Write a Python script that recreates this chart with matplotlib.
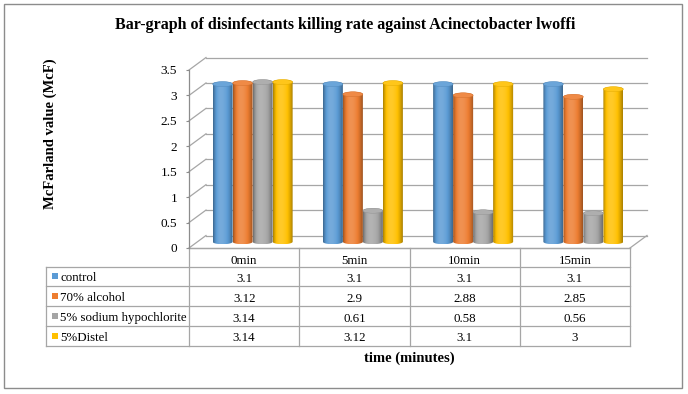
import numpy as np
import matplotlib
matplotlib.use("Agg")
import matplotlib.pyplot as plt
from matplotlib.patches import Polygon, Ellipse, Rectangle
from matplotlib.transforms import blended_transform_factory
from matplotlib.colors import to_rgb
from matplotlib.ticker import FuncFormatter

# ---------------- data ----------------
categories = ['0min', '5min', '10min', '15min']
series_names = ['control', '70% alcohol', '5% sodium hypochlorite', '5%Distel']
control = [3.1, 3.1, 3.1, 3.1]
alcohol = [3.12, 2.9, 2.88, 2.85]
sodium = [3.14, 0.61, 0.58, 0.56]
distel = [3.14, 3.12, 3.1, 3]
series_values = [control, alcohol, sodium, distel]
series_colors = ['#5B9BD5', '#ED7D31', '#A5A5A5', '#FFC000']
y_ticks = [0, 0.5, 1, 1.5, 2, 2.5, 3, 3.5]

title = 'Bar-graph of disinfectants killing rate against Acinectobacter lwoffi'
y_label = 'McFarland value (McF)'
x_label = 'time (minutes)'

# ---------------- layout ----------------
W_PX, H_PX = 688, 394
plt.rcParams['font.family'] = ['Liberation Serif', 'DejaVu Serif']
fig = plt.figure(figsize=(W_PX / 100, H_PX / 100), dpi=100)

AX_L, AX_R, AX_B, AX_T = 189, 630, 248, 70
ax = fig.add_axes([AX_L / W_PX, 1 - AX_B / H_PX, (AX_R - AX_L) / W_PX, (AX_B - AX_T) / H_PX])
ax.set_xlim(0, len(categories))
ax.set_ylim(0, 3.5)
ax.patch.set_alpha(0)

px_per_x = (AX_R - AX_L) / len(categories)
px_per_y = (AX_B - AX_T) / 3.5
DX = 17 / px_per_x      # depth offset in data units
DY = 12.5 / px_per_y

grid_c = '#A6A6A6'
axis_c = '#8C8C8C'

# back wall gridlines + side wall diagonals
for v in y_ticks:
    ax.plot([DX, len(categories) + DX], [v + DY, v + DY], color=grid_c, lw=0.9, zorder=1, clip_on=False)
    ax.plot([0, DX], [v, v + DY], color=grid_c, lw=0.9, zorder=1, clip_on=False)
# floor
ax.plot([0, len(categories)], [0, 0], color=grid_c, lw=0.9, zorder=1, clip_on=False)
ax.plot([len(categories), len(categories) + DX], [0, DY], color=grid_c, lw=0.9, zorder=1, clip_on=False)

# axes styling
for s in ['top', 'right', 'bottom']:
    ax.spines[s].set_visible(False)
ax.spines['left'].set_color(axis_c)
ax.spines['left'].set_linewidth(0.9)
ax.set_xticks([])
ax.set_yticks(y_ticks)
ax.yaxis.set_major_formatter(FuncFormatter(lambda v, p: '%g' % v))
ax.tick_params(axis='y', direction='out', length=2.5, width=0.8, color=axis_c,
               labelsize=9.5, pad=6)


def shade_strip(color, n=80):
    rgb = np.array(to_rgb(color))
    t = np.linspace(0, 1, n)
    peak = 0.38
    d = np.where(t < peak, (peak - t) / peak, (t - peak) / (1 - peak))
    l = 0.16 - 0.5 * d ** 2
    l = l[:, None]
    out = np.where(l > 0, rgb + (1 - rgb) * l, rgb * (1 + l))
    return np.clip(out[None, :, :], 0, 1)


def mix(color, f):
    rgb = np.array(to_rgb(color))
    if f > 0:
        return tuple(rgb + (1 - rgb) * f)
    return tuple(rgb * (1 + f))


BW = 20 / px_per_x
EH = 5 / px_per_y
n_ser = len(series_values)
for i in range(len(categories)):
    for j, vals in enumerate(series_values):
        v = vals[i]
        col = series_colors[j]
        x0 = i + 0.5 - n_ser * BW / 2 + j * BW + DX / 2
        xc = x0 + BW / 2
        yb = DY / 2
        yt = v + DY / 2
        th_b = np.linspace(np.pi, 2 * np.pi, 40)
        th_t = np.linspace(0, np.pi, 40)
        pts = np.vstack([
            np.column_stack([xc + BW / 2 * np.cos(th_b), yb + EH / 2 * np.sin(th_b)]),
            np.column_stack([xc + BW / 2 * np.cos(th_t), yt + EH / 2 * np.sin(th_t)]),
        ])
        clip = Polygon(pts, closed=True, transform=ax.transData)
        im = ax.imshow(shade_strip(col), extent=[x0, x0 + BW, yb - EH / 2, yt + EH / 2],
                       aspect='auto', interpolation='bilinear', zorder=3 + i * 0.01)
        im.set_clip_path(clip)
        ax.add_patch(Ellipse((xc, yt), BW, EH, facecolor=mix(col, 0.1),
                             edgecolor=mix(col, -0.12), lw=0.3, zorder=3.5 + i * 0.01))

ax.set_xlim(0, len(categories))
ax.set_ylim(0, 3.5)

# ---------------- data table ----------------
tt = blended_transform_factory(ax.transData, fig.transFigure)


def fy(p):
    return 1 - p / H_PX


lab_left = (46 - AX_L) / px_per_x
row_edges = [248, 266.5, 286.3, 306.1, 325.9, 345.5]
tbl_c = '#A6A6A6'
# horizontal lines
for k, ye in enumerate(row_edges):
    xa = 0 if k == 0 else lab_left
    ax.plot([xa, len(categories)], [fy(ye), fy(ye)], transform=tt, color=tbl_c, lw=0.9, clip_on=False)
# vertical lines
for c in range(len(categories) + 1):
    ax.plot([c, c], [fy(row_edges[0]), fy(row_edges[-1])], transform=tt, color=tbl_c, lw=0.9, clip_on=False)
ax.plot([lab_left, lab_left], [fy(row_edges[1]), fy(row_edges[-1])], transform=tt, color=tbl_c, lw=0.9,
        clip_on=False)

FS_T = 9.3
# header
for c, name in enumerate(categories):
    ax.text(c + 0.5, fy((row_edges[0] + row_edges[1]) / 2 + 2.5), name, transform=tt, ha='center',
            va='center_baseline', fontsize=FS_T)
# rows
sq_w = 6 / px_per_x
for r, (name, vals, col) in enumerate(zip(series_names, series_values, series_colors)):
    yc = (row_edges[r + 1] + row_edges[r + 2]) / 2
    ax.add_patch(Rectangle(((51.5 - AX_L) / px_per_x, fy(yc + 3)), sq_w, 6 / H_PX, transform=tt,
                           facecolor=col, edgecolor='none', clip_on=False))
    ax.text((60.5 - AX_L) / px_per_x, fy(yc + 0.5), name, transform=tt, ha='left', va='center_baseline',
            fontsize=FS_T)
    for c, v in enumerate(vals):
        ax.text(c + 0.5, fy(yc + 1), '%g' % v, transform=tt, ha='center', va='center_baseline',
                fontsize=FS_T)

# ---------------- titles ----------------
fig.text(345 / W_PX, fy(25), title, ha='center', va='center', fontsize=11.5, fontweight='bold')
fig.text(50 / W_PX, fy(133.5), y_label, ha='center', va='center', rotation=90, fontsize=10.5,
         fontweight='bold')
ax.text(len(categories) / 2, fy(358), x_label, transform=tt, ha='center', va='center', fontsize=10.5,
        fontweight='bold')

# outer border
fig.patches.append(Rectangle((4 / W_PX, fy(388)), (682 - 4) / W_PX, (388 - 4) / H_PX,
                             transform=fig.transFigure, fill=False, edgecolor='#8C8C8C', lw=1.0))

fig.savefig('out.png', dpi=100)
